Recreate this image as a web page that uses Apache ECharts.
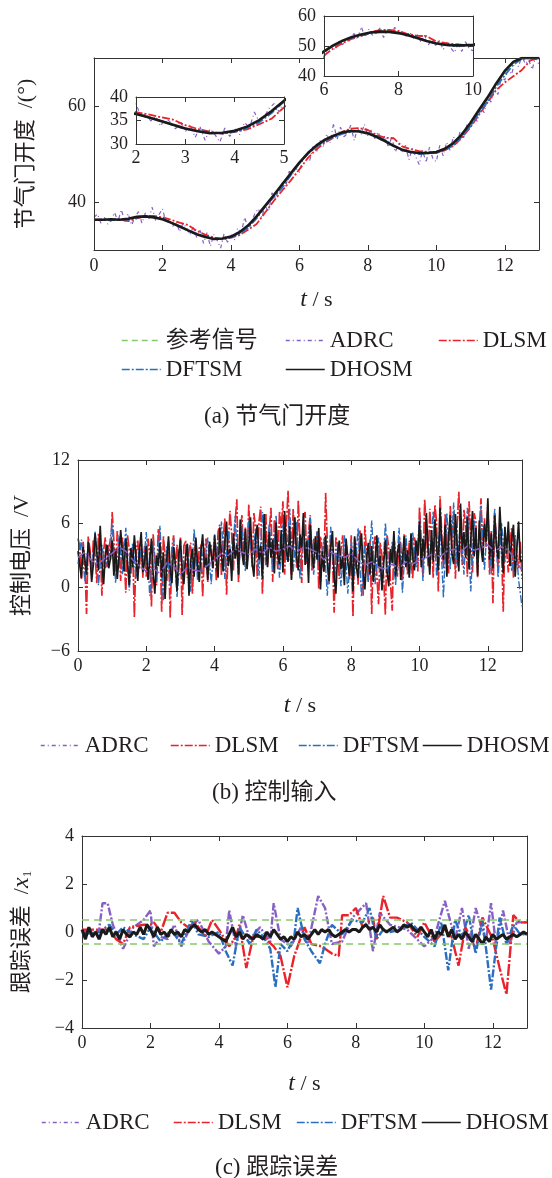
<!DOCTYPE html>
<html><head><meta charset="utf-8">
<script src="https://cdn.jsdelivr.net/npm/echarts@6/dist/echarts.min.js"></script>
<style>html,body{margin:0;padding:0;background:#fff}#c{width:552px;height:1178px}</style>
</head><body><div id="c"></div>
<script>
// ---------- Panel (a): throttle opening ----------
const tStepA = 0.25;
const refA = [36.3,36.3,36.3,36.3,36.4,36.8,37.0,36.9,36.5,35.8,
  35.0,34.2,33.4,32.8,32.3,32.3,32.7,33.6,35.0,36.8,
  39.0,41.2,43.5,45.8,48.0,50.0,51.6,52.8,53.7,54.4,
  54.9,54.8,54.4,53.7,52.9,51.9,51.0,50.4,50.2,50.1,
  50.3,51.0,52.1,54.0,56.3,59.0,61.6,64.5,67.0,69.0,
  69.9,70.0,70.0];
const dhosmA = [36.3,36.3,36.4,36.3,36.5,36.9,37.0,36.8,36.4,35.7,
  34.9,34.1,33.3,32.7,32.3,32.4,32.8,33.7,35.1,37.0,
  39.2,41.4,43.7,46.0,48.2,50.2,51.8,53.0,53.8,54.5,
  54.8,54.7,54.3,53.6,52.7,51.7,50.9,50.4,50.2,50.2,
  50.4,51.1,52.3,54.1,56.5,59.2,61.8,64.7,67.3,69.2,
  70.0,70.0,70.0];
const dftsmA = [36.2,36.4,36.2,36.5,36.3,36.7,37.1,36.9,36.6,35.6,
  35.0,34.0,33.2,32.9,32.5,32.2,32.6,33.4,34.6,36.6,
  39.0,41.0,43.0,45.6,48.1,50.1,51.5,52.7,53.5,54.2,
  54.6,54.8,54.4,53.8,52.9,51.8,50.8,50.3,50.0,50.2,
  50.2,50.8,51.8,53.6,55.8,58.6,61.0,64.0,66.4,68.6,
  69.8,70.0,70.0];
const dlsmA = [36.3,36.3,36.2,36.4,36.0,36.6,37.0,37.1,36.8,36.3,
  35.7,35.2,34.0,33.2,32.6,32.2,32.6,33.1,34.2,35.4,
  37.8,40.2,42.4,44.5,46.8,49.2,51.0,52.4,53.4,54.6,
  55.3,55.4,55.0,54.0,53.4,53.3,51.6,51.0,50.6,50.4,
  50.3,50.8,51.7,53.4,55.6,58.2,60.8,63.3,64.9,66.2,
  67.5,69.5,70.0];
const tStepAdrcA = 0.1;
const adrcA = [36.8,37.5,35.6,36.9,35.4,36.2,37.8,36.0,38.4,35.9,
  37.6,35.2,36.9,38.0,35.6,37.7,36.4,38.9,36.1,37.4,
  38.6,35.8,36.4,34.9,35.9,33.8,35.6,34.6,33.2,34.8,
  32.6,34.1,31.4,33.6,30.8,33.2,32.0,30.4,33.4,31.6,
  33.2,32.0,34.6,33.4,36.8,34.6,35.8,37.6,38.6,36.8,
  39.2,38.0,41.9,40.8,42.6,44.0,43.2,46.4,45.8,47.0,
  46.2,48.8,49.8,48.6,51.6,50.4,52.8,51.6,54.2,52.4,
  56.4,53.0,55.6,53.6,54.2,56.0,52.8,55.4,54.0,56.2,
  53.8,55.0,53.2,54.6,52.6,53.8,51.4,53.6,50.4,52.0,
  50.2,51.8,48.8,51.2,49.4,47.8,50.8,48.2,51.4,49.0,
  48.4,51.8,49.6,52.4,50.8,53.6,52.2,54.8,53.4,56.2,
  55.4,57.6,56.8,59.8,58.6,61.8,60.8,63.6,62.4,66.0,
  65.4,67.8,66.6,69.4,68.2,70.4,68.8,69.6,67.6,70.2,
  68.6];

// ---------- Panel (b): control voltage ----------
const tStepB = 0.05;
const dhosmB = [
  3.4,2.1,0.9,3.8,2.6,1.2,4.3,3.0,0.5,2.2,5.1,3.3,1.6,5.8,2.4,0.3,3.1,4.0,1.8,2.7,
  4.4,1.1,3.6,0.8,2.9,5.4,3.2,1.5,4.6,2.3,0.2,3.7,1.9,4.9,2.8,0.6,3.5,5.2,1.4,2.5,
  3.9,0.7,2.4,4.6,1.3,-0.6,3.0,2.0,4.2,0.9,3.3,-1.1,2.6,4.8,1.7,0.4,3.8,2.2,-0.4,3.1,
  4.5,1.6,0.3,2.9,4.1,-0.8,2.5,3.6,1.0,4.7,2.2,0.5,3.4,5.0,1.9,2.8,0.7,4.3,3.2,1.8,
  4.9,2.6,0.9,5.6,3.1,1.5,4.4,6.2,2.0,3.6,0.6,5.1,2.7,4.0,1.2,6.4,3.3,2.1,5.5,1.7,
  3.8,6.6,2.3,1.0,4.7,5.9,2.6,3.9,0.8,6.9,3.4,1.9,5.2,2.8,4.5,1.3,6.1,3.0,2.2,5.4,
  1.4,7.2,3.5,2.4,5.8,0.7,4.2,6.6,2.9,1.6,5.0,3.7,7.0,2.1,4.4,0.4,5.9,3.2,1.8,4.8,
  2.6,5.6,-0.2,3.4,1.5,4.9,2.3,0.6,3.8,5.3,1.0,-0.6,3.1,4.4,1.7,2.9,0.2,4.6,2.4,1.1,
  3.6,-0.4,4.8,2.0,0.9,3.3,5.1,1.6,-0.2,2.7,4.2,1.2,3.9,0.5,2.5,4.9,1.8,3.0,-0.3,2.2,
  4.5,1.4,0.1,3.6,2.3,5.3,1.0,3.2,4.1,0.7,2.6,4.8,1.9,3.5,0.9,5.1,2.8,1.6,4.4,3.0,
  6.2,1.9,4.6,2.8,7.0,3.5,1.2,5.4,2.4,6.4,3.9,1.6,7.5,4.2,2.6,5.9,1.0,4.8,6.8,3.1,
  2.2,6.9,4.1,1.5,7.9,3.6,5.2,2.8,6.6,1.7,4.5,7.2,2.9,5.6,1.1,6.3,3.8,2.4,6.0,4.3,
  8.4,2.6,5.1,1.8,6.8,3.9,2.7,7.6,4.4,1.3,5.7,3.2,6.2,2.0,4.6,5.9,1.0,3.6,6.2,2.4,
  2.6];
const dlsmB = [
  4.6,3.9,0.8,4.3,2.4,-2.5,4.8,3.6,1.2,4.5,3.1,0.4,5.1,4.2,-0.8,3.5,4.7,1.9,4.0,2.6,
  7.1,4.4,1.5,5.3,3.8,0.6,4.7,2.9,-0.5,4.9,3.6,1.3,4.1,-2.8,3.2,4.4,1.7,4.6,0.9,3.9,
  1.0,4.6,3.3,-1.8,5.0,2.7,0.2,5.5,4.1,-2.3,4.8,3.0,0.6,4.3,-2.9,3.7,4.9,1.5,4.0,2.2,
  4.7,-2.6,3.9,4.4,0.9,3.5,4.2,-0.6,2.8,4.5,1.4,3.7,4.0,-0.9,3.3,4.6,0.5,2.9,4.1,1.8,
  4.3,0.6,5.2,5.9,1.1,4.6,6.5,-0.7,3.8,7.2,5.0,1.6,6.1,8.3,0.4,4.9,6.8,2.5,5.7,1.9,
  7.8,4.5,1.9,7.0,5.6,0.8,6.2,7.6,-0.6,4.8,6.9,2.1,5.3,7.5,0.5,6.4,4.1,1.7,7.2,5.5,
  8.1,1.2,5.9,9.1,3.6,0.9,7.4,5.0,1.8,8.2,4.3,0.4,6.6,7.1,2.3,5.2,6.8,1.5,4.6,3.4,
  5.2,-0.2,4.8,3.6,1.4,8.9,4.2,0.3,5.0,3.1,-2.4,4.7,4.0,0.8,3.5,4.9,1.6,4.3,2.9,0.7,
  4.9,-2.8,4.6,3.8,0.2,5.4,4.0,-0.8,5.8,3.2,0.5,4.5,-2.5,3.9,4.8,1.1,-1.6,4.2,3.0,0.9,
  -2.6,4.9,3.7,0.3,-2.2,4.6,3.4,1.0,4.8,4.1,0.7,5.0,3.6,1.2,4.4,2.6,0.8,4.7,3.9,1.5,
  7.6,4.4,1.0,8.3,5.5,2.0,7.4,4.7,0.9,7.8,6.1,-0.4,8.6,5.0,1.8,6.9,4.2,1.3,7.7,3.6,
  7.1,0.8,5.8,9.0,4.5,2.1,7.3,5.9,1.0,8.1,4.9,1.4,7.0,6.2,0.9,5.4,8.4,2.6,6.5,3.8,
  7.9,1.2,5.3,-1.5,7.0,4.6,1.6,5.1,3.9,-2.3,4.9,3.5,1.4,4.3,5.6,0.9,4.6,3.2,1.8,4.3,
  0.8];
const tStepDftsmB = 0.1;
const dftsmB = [2.2,4.5,0.6,3.9,1.5,5.3,0.2,4.0,1.8,3.5,
  6.0,0.4,4.8,1.2,5.6,-0.3,4.1,0.9,3.8,1.6,
  5.2,-0.8,4.3,0.5,5.8,-1.3,3.9,0.2,4.6,-0.9,
  3.6,1.1,4.2,-0.4,5.5,0.7,3.8,1.9,4.7,0.3,
  5.0,1.7,6.2,0.8,5.4,2.0,6.7,1.3,5.8,1.5,
  6.3,2.4,5.5,1.1,7.1,2.0,6.0,1.6,6.8,0.9,
  5.9,2.6,7.4,1.4,6.2,0.8,5.5,2.2,6.6,1.2,
  5.3,0.5,4.6,-0.8,5.7,0.9,4.2,0.1,4.9,-0.6,
  4.4,1.1,5.6,-0.9,4.0,0.6,6.3,0.3,4.7,-0.2,
  6.1,1.3,4.3,0.2,5.6,-0.5,4.9,1.0,5.2,1.9,
  6.5,0.6,5.9,2.3,7.2,1.1,6.0,-1.0,7.0,1.7,
  8.0,2.0,6.4,1.2,7.5,-0.4,6.3,2.3,7.7,1.6,
  6.8,1.3,7.4,0.9,6.1,2.4,5.6,1.5,5.0,0.7,
  -1.8];
const tStepAdrcB = 0.2;
const adrcB = [2.8,3.3,2.5,2.2,2.8,3.2,3.8,3.4,2.6,2.0,
  1.5,1.8,1.3,2.3,2.0,1.2,1.9,1.6,1.5,2.1,
  2.6,3.2,3.0,3.6,3.3,3.1,3.6,3.2,3.8,3.4,
  3.6,3.9,3.3,3.8,3.6,3.3,2.6,3.3,3.0,2.8,
  3.2,2.5,2.1,2.4,1.9,1.7,2.2,1.8,2.4,2.2,
  2.6,2.8,3.2,2.9,3.4,3.6,3.3,3.9,3.5,3.7,
  4.0,3.4,3.8,3.5,2.6,1.6];

// ---------- Panel (c): tracking error ----------
const errBand = [0.5, -0.5];
const adrcC = [[0,0.1],[0.3,-0.1],[0.5,0.1],[0.6,1.2],[0.75,1.2],[0.9,0.3],[1.2,-0.7],[1.5,0.2],[1.8,0.5],[2.0,0.9],
  [2.1,-0.6],[2.3,-0.2],[2.5,-0.3],[2.7,0.3],[2.9,-0.6],[3.2,0.3],[3.4,0.5],[3.7,-0.4],[4.0,-0.9],[4.2,-0.6],
  [4.3,0.9],[4.5,-0.6],[4.7,0.7],[4.9,-0.3],[5.2,0.2],[5.5,-0.4],[5.6,1.2],[5.8,-0.3],[6.1,-0.6],[6.4,0.2],
  [6.6,-0.5],[6.9,1.5],[7.1,1.0],[7.3,-0.5],[7.6,-0.4],[7.9,0.6],[8.1,0.9],[8.3,1.2],[8.5,-0.8],[8.7,0.8],
  [9.0,0.3],[9.5,0.1],[10.0,-0.6],[10.3,-0.2],[10.6,1.3],[10.9,-0.3],[11.1,1.0],[11.3,-0.7],[11.5,1.0],[11.8,-0.4],
  [11.95,1.2],[12.1,-0.6],[12.3,0.9],[12.5,-0.5],[12.7,0.4],[13.0,0.4]];
const dlsmC = [[0,0.1],[0.5,0.1],[0.8,0.1],[1.0,-0.3],[1.2,-0.5],[1.4,0.2],[1.8,0.3],[2.0,0.3],[2.1,0.4],[2.3,0.0],
  [2.5,0.8],[2.7,0.8],[2.9,0.4],[3.1,0.2],[3.3,0.4],[3.6,-0.2],[3.8,0.5],[4.0,0.1],[4.3,-0.6],[4.5,-0.2],
  [4.6,0.3],[4.8,-1.5],[5.0,-0.2],[5.3,-0.2],[5.6,-0.6],[5.8,-1.0],[6.0,-2.3],[6.2,-1.0],[6.5,0.2],[6.7,-0.5],
  [7.0,-0.6],[7.3,-0.9],[7.5,-1.0],[7.6,0.7],[7.8,0.7],[8.0,1.0],[8.2,0.2],[8.5,0.6],[8.6,-0.3],[8.8,1.5],
  [9.0,0.6],[9.2,0.6],[9.5,0.4],[9.8,-0.2],[10.0,0.4],[10.3,-0.4],[10.6,0.1],[10.8,-0.2],[11.0,-1.4],[11.2,0.2],
  [11.5,-0.7],[11.7,0.6],[12.0,-0.3],[12.2,-1.5],[12.4,-2.6],[12.6,0.7],[12.8,0.4],[13.0,0.4]];
const dftsmC = [[0,-0.1],[0.5,0.0],[0.8,0.3],[1.0,-0.1],[1.2,0.2],[1.5,-0.1],[1.8,-0.3],[2.0,0.2],[2.3,-0.4],[2.6,0.1],
  [2.9,-0.5],[3.2,0.5],[3.4,-0.1],[3.7,-0.2],[4.0,0.0],[4.2,-0.8],[4.4,-1.4],[4.6,0.2],[4.9,-0.5],[5.1,0.1],
  [5.3,-0.2],[5.5,-0.7],[5.65,-2.3],[5.8,-0.5],[6.0,-0.8],[6.2,-0.2],[6.3,1.0],[6.5,-0.3],[6.7,-0.8],[6.95,-1.3],
  [7.1,-0.5],[7.3,0.3],[7.6,-0.1],[7.9,0.5],[8.2,0.4],[8.4,1.0],[8.6,-0.3],[8.8,0.1],[9.0,0.0],[9.3,0.1],
  [9.6,0.4],[10.0,-0.2],[10.3,-0.6],[10.5,0.4],[10.7,-1.6],[10.9,0.5],[11.1,-0.2],[11.3,0.7],[11.5,-0.9],[11.7,0.5],
  [11.95,-2.4],[12.2,0.6],[12.4,-0.5],[12.6,0.3],[12.8,-0.1],[13.0,-0.1]];
const tStepC = 0.1;
const dhosmC = [0.1,-0.3,0.2,-0.2,0.0,-0.3,0.1,-0.1,0.2,-0.2,
  0.0,-0.3,0.1,-0.1,-0.2,0.0,-0.1,0.2,-0.1,0.3,
  0.1,-0.2,0.2,-0.1,0.0,-0.2,0.1,-0.1,0.0,-0.2,
  0.1,0.0,0.2,0.3,0.1,0.0,0.1,-0.1,0.0,-0.1,
  -0.2,-0.3,-0.4,-0.1,0.2,-0.2,0.0,-0.3,-0.1,-0.2,
  -0.3,-0.1,-0.2,-0.3,0.0,-0.2,0.1,-0.1,-0.3,-0.2,
  -0.4,-0.2,-0.3,0.0,-0.2,-0.1,-0.3,-0.1,0.1,-0.1,
  0.1,0.0,0.1,-0.1,-0.2,-0.1,0.0,0.1,0.0,0.1,
  0.1,0.0,0.2,0.3,0.1,0.2,0.0,0.3,0.1,0.0,
  0.1,0.2,0.0,0.1,0.3,0.2,0.3,0.1,0.0,0.2,
  0.0,-0.2,0.1,-0.3,0.0,-0.1,0.3,-0.2,0.1,-0.3,
  -0.1,-0.3,0.0,-0.2,-0.4,-0.1,-0.3,-0.5,-0.2,-0.4,
  -0.1,-0.3,-0.2,-0.1,-0.3,-0.2,-0.1,-0.2,-0.1,0.0,
  -0.1];

// ---------- ticks ----------
const tTicks = [0,2,4,6,8,10,12];
const yTicksA = [40,60];
const inset1X = [2,3,4,5], inset1Y = [30,35,40];
const inset2X = [6,8,10], inset2Y = [40,50,60];
const yTicksB = [-6,0,6,12];
const yTicksC = [-4,-2,0,2,4];

// ---------- styling ----------
const SERIF = "'Liberation Serif','Times New Roman','Noto Sans CJK SC',serif";
const AX = '#333';
const TXT = '#231f20';
const C = {ref:'#86c96e', adrc:'#8660c4', dlsm:'#e8232b', dftsm:'#2a6fbf', dhosm:'#1a1a1a'};
const DASHDOT = [8,2,2,2];
const LONGDD = [12,2,2,2];
const DOTTY = [4,3,1,3];

const toXY = (step, arr) => arr.map((v,i)=>[Math.round(i*step*1000)/1000, v]);
const fmt = v => String(v).replace('-', '\u2212');

const grids = [
  {left:94, top:58, width:445, height:192, z:0},
  {left:136, top:97, width:148, height:47, show:true, backgroundColor:'#fff', borderWidth:0, z:10},
  {left:324, top:16, width:149, height:60, show:true, backgroundColor:'#fff', borderWidth:0, z:10},
  {left:78, top:460, width:444, height:191, z:0},
  {left:82, top:836, width:445, height:192, z:0}
];

const xAxes = [], yAxes = [];
function addAxes(g, xr, yr, xt, yt, o) {
  const line = {show:true, onZero:false, lineStyle:{color:AX, width:1}};
  const tick = vals => ({show:true, inside:true, length:5, customValues:vals, lineStyle:{color:AX, width:1}});
  const lab = (vals, m) => ({show:true, customValues:vals, margin:m, fontFamily:SERIF, fontSize:18, color:TXT, formatter:fmt});
  const nameStyle = {fontFamily:SERIF, fontSize:22, color:TXT,
    rich:{i:{fontFamily:SERIF, fontStyle:'italic', fontSize:24, color:TXT},
          s:{fontFamily:SERIF, fontSize:13, color:TXT, verticalAlign:'bottom'}}};
  xAxes.push({type:'value', gridIndex:g, position:'bottom', min:xr[0], max:xr[1], axisLine:line, axisTick:tick(xt),
    axisLabel:lab(xt, o.xm), splitLine:{show:false}, z:o.z,
    name:o.xName||'', nameLocation:'middle', nameGap:o.xGap||30, nameTextStyle:nameStyle});
  xAxes.push({type:'value', gridIndex:g, position:'top', min:xr[0], max:xr[1], axisLine:line, axisTick:tick(xt),
    axisLabel:{show:false}, splitLine:{show:false}, z:o.z});
  yAxes.push({type:'value', gridIndex:g, position:'left', min:yr[0], max:yr[1], axisLine:line, axisTick:tick(yt),
    axisLabel:lab(yt, 8), splitLine:{show:false}, z:o.z,
    name:o.yName||'', nameLocation:'middle', nameGap:o.yGap||30, nameRotate:90, nameTextStyle:nameStyle});
  yAxes.push({type:'value', gridIndex:g, position:'right', min:yr[0], max:yr[1], axisLine:line, axisTick:tick(yt),
    axisLabel:{show:false}, splitLine:{show:false}, z:o.z});
}
addAxes(0, [0,13], [30,70], tTicks, yTicksA, {xm:7, z:3, xName:'{i|t} / s', xGap:38, yName:'节气门开度  /(°)', yGap:57});
addAxes(1, [2,5], [30,40], inset1X, inset1Y, {xm:5, z:12});
addAxes(2, [6,10], [40,60], inset2X, inset2Y, {xm:5, z:12});
addAxes(3, [0,13], [-6,12], tTicks, yTicksB, {xm:6, z:3, xName:'{i|t} / s', xGap:43, yName:'控制电压  /V', yGap:45});
addAxes(4, [0,13], [-4,4], tTicks, yTicksC, {xm:6, z:3, xName:'{i|t} / s', xGap:44, yName:'跟踪误差  /{i|x}{s|1}', yGap:48});

function line(name, data, color, width, dash, g, z) {
  return {type:'line', name, data, xAxisIndex:2*g, yAxisIndex:2*g, symbol:'none', showSymbol:false,
    clip:true, z, silent:true, animation:false, lineStyle:{color, width, type:dash}, itemStyle:{color}};
}
const series = [];
[0,1,2].forEach(g => {
  const zb = g === 0 ? 2 : 11;
  series.push(line('参考信号', toXY(tStepA, refA), C.ref, 1.5, [6,4], g, zb));
  series.push(line('ADRC', toXY(tStepAdrcA, adrcA), C.adrc, 1.2, DOTTY, g, zb));
  series.push(line('DLSM', toXY(tStepA, dlsmA), C.dlsm, 1.8, DASHDOT, g, zb));
  series.push(line('DFTSM', toXY(tStepA, dftsmA), C.dftsm, 1.8, DASHDOT, g, zb));
  series.push(line('DHOSM', toXY(tStepA, dhosmA), C.dhosm, 2.6, 'solid', g, zb));
});
series.push(line('DLSM', toXY(tStepB, dlsmB), C.dlsm, 1.7, LONGDD, 3, 2));
series.push(line('DFTSM', toXY(tStepDftsmB, dftsmB), C.dftsm, 1.4, DASHDOT, 3, 3));
series.push(line('DHOSM', toXY(tStepB, dhosmB), C.dhosm, 1.7, 'solid', 3, 4));
series.push(line('ADRC', toXY(tStepAdrcB, adrcB), C.adrc, 1.5, DASHDOT, 3, 5));

series.push({type:'line', name:'band', data:[], xAxisIndex:8, yAxisIndex:8, silent:true,
  markLine:{silent:true, symbol:'none', label:{show:false}, animation:false,
    lineStyle:{color:C.ref, type:[7,5], width:1.5}, data:errBand.map(v=>({yAxis:v}))}});
series.push(line('ADRC', adrcC, C.adrc, 2.4, DASHDOT, 4, 3));
series.push(line('DLSM', dlsmC, C.dlsm, 2.4, LONGDD, 4, 3));
series.push(line('DFTSM', dftsmC, C.dftsm, 2.4, DASHDOT, 4, 3));
series.push(line('DHOSM', toXY(tStepC, dhosmC), C.dhosm, 3, 'solid', 4, 4));

function leg(name, left, cy) {
  return {data:[name], left, top:cy-11, padding:0, itemWidth:39, itemHeight:14, itemGap:0, selectedMode:false,
    itemStyle:{opacity:0}, lineStyle:{width:1.5},
    textStyle:{fontFamily:SERIF, fontSize:23, color:TXT}};
}
const legends = [
  leg('参考信号', 121, 340), leg('ADRC', 285, 340), leg('DLSM', 438, 340),
  leg('DFTSM', 121, 369), leg('DHOSM', 285, 369),
  leg('ADRC', 40, 745), leg('DLSM', 170, 745), leg('DFTSM', 298, 745), leg('DHOSM', 422, 745),
  leg('ADRC', 41, 1122), leg('DLSM', 173, 1122), leg('DFTSM', 296, 1122), leg('DHOSM', 421, 1122)
];
const tStyle = {fontFamily:SERIF, fontSize:23, fontWeight:'normal', color:TXT};
const titles = [
  {text:'(a) 节气门开度', left:204, top:405, padding:0, textStyle:tStyle},
  {text:'(b) 控制输入', left:212, top:781, padding:0, textStyle:tStyle},
  {text:'(c) 跟踪误差', left:215, top:1156, padding:0, textStyle:tStyle}
];

const chart = echarts.init(document.getElementById('c'), null, {renderer:'canvas'});
chart.setOption({animation:false, backgroundColor:'#fff', title:titles, legend:legends,
  grid:grids, xAxis:xAxes, yAxis:yAxes, series});
</script></body></html>
